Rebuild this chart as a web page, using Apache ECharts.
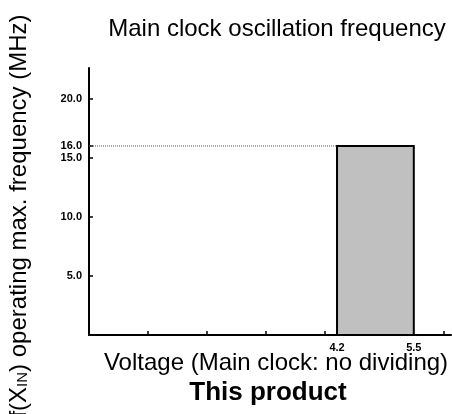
<!DOCTYPE html>
<html>
<head>
<meta charset="utf-8">
<script src="https://cdn.jsdelivr.net/npm/echarts@6/dist/echarts.min.js"></script>
<style>
  html, body { margin: 0; padding: 0; background: #fff; }
  #chart { width: 452px; height: 414px; }
</style>
</head>
<body>
<div id="chart"></div>
<script>
// Operating range of this product: supply voltage span and max. main clock frequency
const voltageRange = [4.2, 5.5];      // V
const maxFrequency = 16.0;            // MHz
const yTickValues = [5, 10, 15, 16, 20];
const yTickLabels = ['5.0', '10.0', '15.0', '16.0', '20.0'];
const xTickValues = [1, 2, 3, 4, 5, 6];
const xLabelValues = [4.2, 5.5];
const xLabelTexts = ['4.2', '5.5'];

const FONT = '"Liberation Sans", Arial, Helvetica, sans-serif';

const chart = echarts.init(document.getElementById('chart'), null, { renderer: 'canvas' });

chart.setOption({
  animation: false,
  backgroundColor: '#ffffff',
  grid: { left: 89, top: 68, right: 1, bottom: 79, containLabel: false },
  xAxis: {
    type: 'value',
    min: 0,
    max: 6.13,
    axisLine: { show: true, onZero: false, lineStyle: { color: '#000', width: 2 } },
    axisTick: { show: true, inside: true, length: 4, customValues: xTickValues,
                lineStyle: { color: '#000', width: 1.5 } },
    axisLabel: {
      show: true,
      customValues: xLabelValues,
      formatter: v => xLabelTexts[xLabelValues.indexOf(+v.toFixed(1))] || '',
      fontFamily: FONT, fontSize: 11, fontWeight: 'bold', color: '#000', margin: 7
    },
    splitLine: { show: false }
  },
  yAxis: {
    type: 'value',
    min: 0,
    max: 22.6,
    axisLine: { show: true, onZero: false, lineStyle: { color: '#000', width: 2 } },
    axisTick: { show: true, inside: true, length: 4, customValues: yTickValues,
                lineStyle: { color: '#000', width: 1.5 } },
    axisLabel: {
      show: true,
      customValues: yTickValues,
      formatter: v => yTickLabels[yTickValues.indexOf(Math.round(v))] || '',
      fontFamily: FONT, fontSize: 11, fontWeight: 'bold', color: '#000', margin: 7
    },
    splitLine: { show: false }
  },
  series: [
    {
      // dotted guide at the max. frequency, from the axis to the range block
      type: 'line',
      data: [[0, maxFrequency], [voltageRange[0], maxFrequency]],
      symbol: 'none',
      silent: true,
      lineStyle: { color: '#555', width: 1, type: [1, 1] },
      z: 1
    },
    {
      // operating range block
      type: 'custom',
      data: [[voltageRange[0], voltageRange[1], maxFrequency]],
      renderItem: function (params, api) {
        const p0 = api.coord([api.value(0), api.value(2)]);
        const p1 = api.coord([api.value(1), 0]);
        return {
          type: 'rect',
          shape: { x: p0[0], y: p0[1], width: p1[0] - p0[0], height: p1[1] - p0[1] },
          style: { fill: '#c0c0c0', stroke: '#000', lineWidth: 2 }
        };
      },
      z: 3
    }
  ],
  graphic: [
    {
      type: 'text',
      style: {
        text: 'Main clock oscillation frequency', x: 277, y: 29,
        align: 'center', verticalAlign: 'middle',
        font: '24px ' + FONT, fill: '#000'
      }
    },
    {
      type: 'text',
      style: {
        text: 'Voltage (Main clock: no dividing)', x: 276, y: 363,
        align: 'center', verticalAlign: 'middle',
        font: '24px ' + FONT, fill: '#000'
      }
    },
    {
      type: 'text',
      style: {
        text: 'This product', x: 268, y: 393,
        align: 'center', verticalAlign: 'middle',
        font: 'bold 26px ' + FONT, fill: '#000'
      }
    },
    {
      type: 'text',
      x: 18, y: 216,
      rotation: Math.PI / 2,
      style: {
        text: '{n|f(X}{s|IN}{n|) operating max. frequency (MHz)}',
        x: 0, y: 0,
        align: 'center', verticalAlign: 'middle',
        rich: {
          n: { fontFamily: FONT, fontSize: 24, fill: '#000', verticalAlign: 'bottom', lineHeight: 26 },
          s: { fontFamily: FONT, fontSize: 15, fill: '#000', verticalAlign: 'bottom', lineHeight: 26, padding: [0, 0, 1, 0] }
        }
      }
    }
  ]
});
</script>
</body>
</html>
